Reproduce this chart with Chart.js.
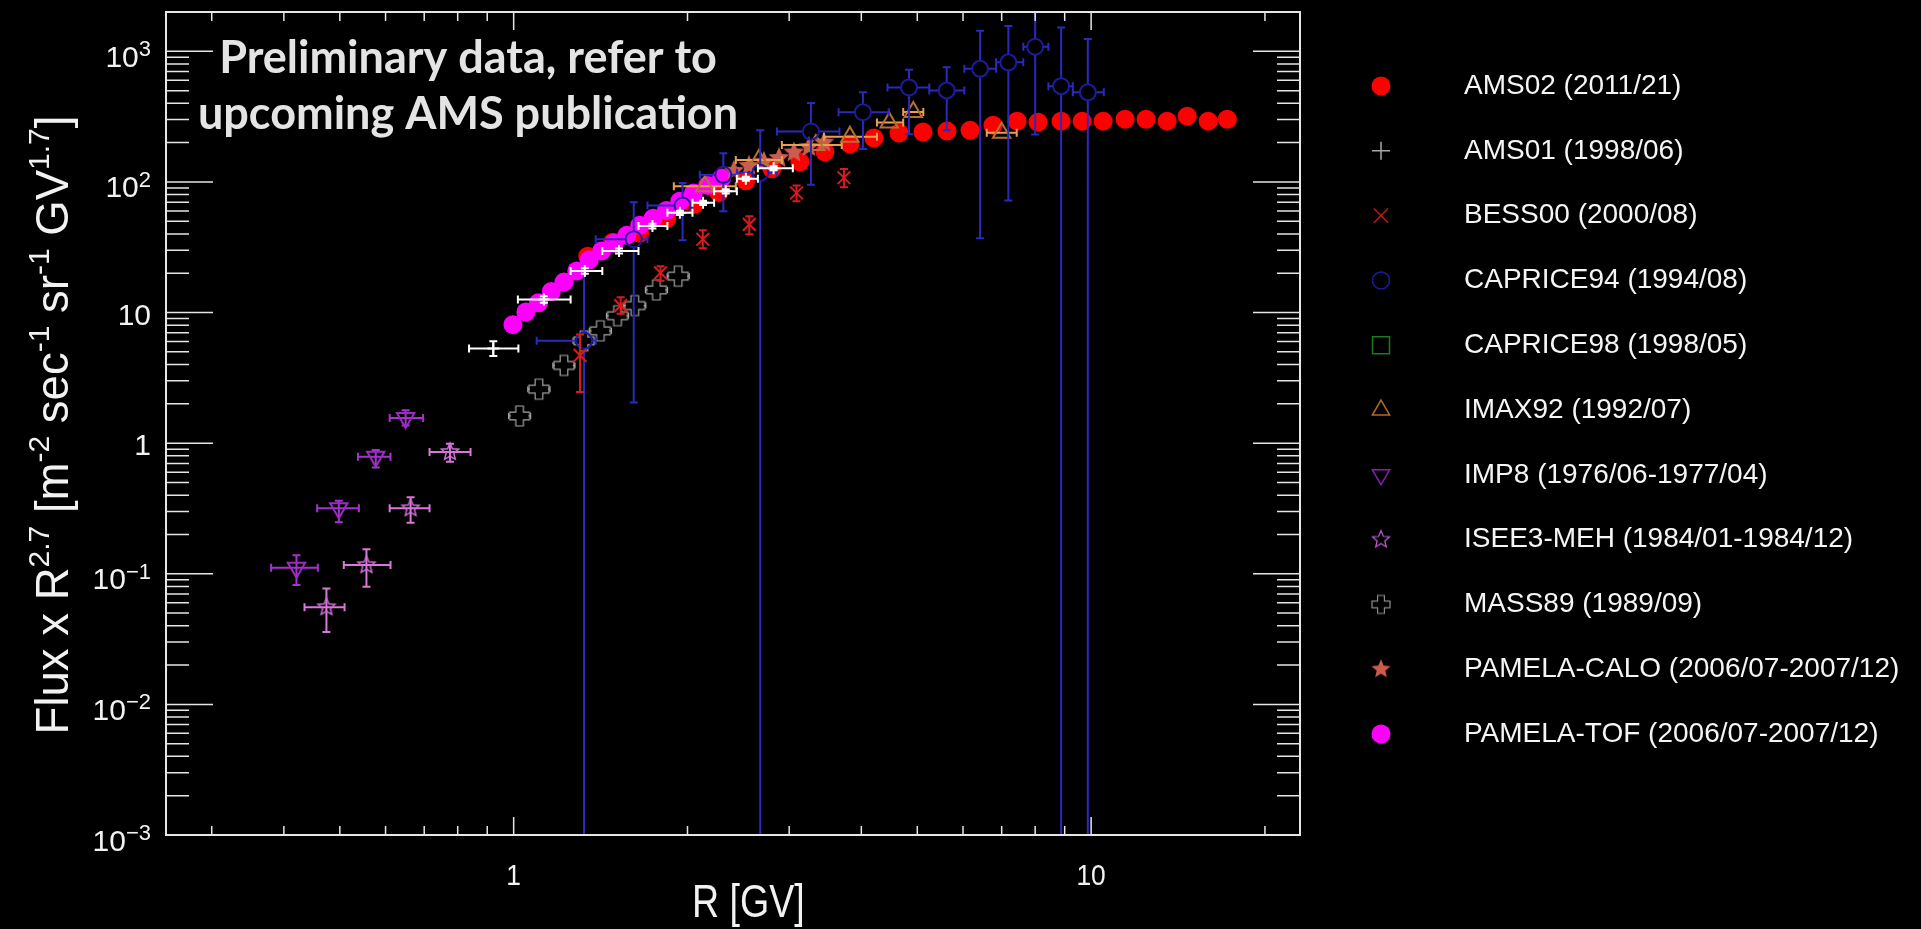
<!DOCTYPE html>
<html>
<head>
<meta charset="utf-8">
<title>Flux x R^2.7 vs rigidity</title>
<script src="https://cdn.jsdelivr.net/npm/chart.js@4.4.1/dist/chart.umd.min.js"></script>
<style>
  html, body { margin: 0; padding: 0; background: #000; overflow: hidden; }
  canvas { display: block; background: #000; }
</style>
</head>
<body>
<canvas id="fluxChart" width="1921" height="929"></canvas>
<script>
// values: R [GV] and Flux x R^2.7
const ams02R = [1.344, 1.484, 1.653, 1.842, 2.051, 2.266, 2.524, 2.80, 3.131, 3.459, 3.822, 4.206, 4.648, 5.115,
  5.628, 6.171, 6.764, 7.443, 8.093, 8.872, 9.65, 10.49, 11.45, 12.45, 13.54, 14.67, 15.95, 17.21];
const ams02V = [27.0, 34.5, 40.4, 52.5, 67.1, 82.8, 102, 126, 142.5, 170, 195, 217, 237, 241,
  245, 249, 272, 292, 287, 292, 292, 292, 302, 302, 292, 319, 292, 302];

const pamTofR = [0.997, 1.050, 1.104, 1.162, 1.222, 1.286, 1.351, 1.420, 1.492, 1.570, 1.653, 1.744, 1.839, 1.940, 2.048, 2.167, 2.291];
const pamTofV = [8.08, 10.1, 11.9, 14.5, 17.1, 20.8, 25.2, 29.6, 33.9, 39.0, 46.5, 52.8, 60.4, 71.1, 82.3, 94.1, 107];

const pamCaloR = [2.406, 2.555, 2.713, 2.880, 3.057, 3.245, 3.446];
const pamCaloV = [121.7, 132.8, 142.5, 152.8, 168.2, 185.1, 200.4];

const ams01R = [0.922, 1.128, 1.328, 1.522, 1.739, 1.940, 2.128, 2.330, 2.524, 2.819];
const ams01V = [5.31, 12.6, 20.8, 29.6, 45.9, 58.0, 69.2, 84.7, 105.8, 127.5];
const ams01RLo = [0.837, 1.017, 1.255, 1.424, 1.645, 1.846, 2.040, 2.224, 2.435, 2.648];
const ams01RHi = [1.019, 1.255, 1.424, 1.645, 1.846, 2.040, 2.224, 2.435, 2.648, 3.044];
const ams01VLo = [4.64, 11.9, 19.8, 28.3, 44.0, 55.8, 66.6, 81.6, 102, 123];
const ams01VHi = [6.03, 13.3, 21.8, 30.9, 47.8, 60.2, 71.8, 87.8, 109.6, 132];

const bessR = [1.303, 1.532, 1.796, 2.126, 2.559, 3.089, 3.732];
const bessV = [4.70, 11.3, 20.1, 36.4, 47.3, 82.3, 107.6];
const bessVLo = [2.46, 9.8, 17.5, 31.1, 39.7, 71.1, 90.9];
const bessVHi = [6.78, 13.1, 22.6, 42.6, 54.7, 94.1, 125.4];

const capr94R = [1.324, 1.614, 1.961, 2.307, 2.673, 3.272, 4.026, 4.837, 5.622, 6.423, 7.189, 8.0, 8.872, 9.87];
const capr94V = [6.07, 36.4, 65.9, 113.4, 117.5, 243, 342, 529, 502, 734, 823, 1084, 541, 485];
const capr94RLo = [1.096, 1.387, 1.705, 2.101, 2.435, 2.857, 3.653, 4.44, 5.245, 6.032, 6.845, 7.63, 8.433, 9.296];
const capr94RHi = [1.387, 1.705, 2.035, 2.435, 2.857, 3.666, 4.461, 5.245, 6.032, 6.845, 7.63, 8.433, 9.296, 10.52];
const capr94VLo = [1e-4, 2.05, 35.8, 59.7, 1e-4, 95.2, 179, 232, 249, 37.0, 72, 231, 1e-4, 1e-4];
const capr94VHi = [20.9, 69.9, 98.1, 165.9, 249, 402, 487, 721, 755, 1434, 1565, 5000, 1519, 1240];

const imaxR = [2.143, 2.658, 3.337, 3.822, 4.471, 4.921, 7.0];
const imaxV = [92.5, 147.5, 191.8, 221.7, 285.3, 343.4, 237.8];
const imaxRLo = [1.894, 2.425, 2.914, 3.446, 4.257, 4.727, 6.596];
const imaxRHi = [2.425, 2.914, 3.70, 4.257, 4.727, 5.122, 7.433];

const imp8R = [0.4206, 0.498, 0.577, 0.650];
const imp8V = [0.1111, 0.3175, 0.788, 1.56];
const imp8RLo = [0.3802, 0.4568, 0.5375, 0.610];
const imp8RHi = [0.458, 0.5395, 0.612, 0.697];
const imp8VLo = [0.0821, 0.2484, 0.650, 1.363];
const imp8VHi = [0.1388, 0.363, 0.886, 1.785];

const iseeR = [0.474, 0.556, 0.663, 0.7756];
const iseeV = [0.0555, 0.1165, 0.3175, 0.856];
const iseeRLo = [0.4343, 0.508, 0.61, 0.715];
const iseeRHi = [0.5095, 0.612, 0.715, 0.842];
const iseeVLo = [0.0358, 0.0797, 0.2454, 0.722];
const iseeVHi = [0.0773, 0.1541, 0.3847, 0.99];

const mass89R = [1.024, 1.106, 1.222, 1.324, 1.413, 1.513, 1.621, 1.767, 1.927];
const mass89V = [1.615, 2.59, 3.94, 6.07, 7.24, 9.46, 11.3, 14.9, 19.0];
const mass89RLo = [0.98, 1.058, 1.169, 1.267, 1.352, 1.448, 1.551, 1.691, 1.844];
const mass89RHi = [1.07, 1.156, 1.277, 1.384, 1.477, 1.581, 1.694, 1.847, 2.014];

const legendLabels = [
  'AMS02 (2011/21)', 'AMS01 (1998/06)', 'BESS00 (2000/08)', 'CAPRICE94 (1994/08)', 'CAPRICE98 (1998/05)',
  'IMAX92 (1992/07)', 'IMP8 (1976/06-1977/04)', 'ISEE3-MEH (1984/01-1984/12)', 'MASS89 (1989/09)',
  'PAMELA-CALO (2006/07-2007/12)', 'PAMELA-TOF (2006/07-2007/12)'
];

const xTickVals = [1, 10];
const xTickLabels = ['1', '10'];
const yTickVals = [1e-3, 1e-2, 1e-1, 1, 10, 100, 1000];
const yTickBase = ['10', '10', '10', '1', '10', '10', '10'];
const yTickExp = ['\u22123', '\u22122', '\u22121', '', '', '2', '3'];

const note = ['Preliminary data, refer to', 'upcoming AMS publication'];
const xTitle = 'R [GV]';
const yTitle = [['Flux x R', 0], ['2.7', 1], [' [m', 0], ['-2', 1], [' sec', 0], ['-1', 1],
  [' sr', 0], ['-1', 1], [' GV', 0], ['1.7', 1], [']', 0]];

const FONT = "'Liberation Sans', Arial, Helvetica, sans-serif";

// marker shapes chart.js does not have
function starMarker(r, fill, stroke, lw) {
  const s = Math.ceil(2 * r + lw + 4);
  const c = document.createElement('canvas');
  c.width = c.height = s;
  const g = c.getContext('2d');
  g.translate(s / 2, s / 2);
  g.beginPath();
  for (let k = 0; k < 10; k++) {
    const rr = k % 2 ? r * 0.45 : r;
    const a = -Math.PI / 2 + k * Math.PI / 5;
    g.lineTo(rr * Math.cos(a), rr * Math.sin(a));
  }
  g.closePath();
  if (fill) { g.fillStyle = fill; g.fill(); }
  if (stroke) { g.strokeStyle = stroke; g.lineWidth = lw; g.stroke(); }
  return c;
}

function plusMarker(r, stroke, lw) {
  const s = Math.ceil(2 * r + lw + 4);
  const c = document.createElement('canvas');
  c.width = c.height = s;
  const g = c.getContext('2d');
  g.translate(s / 2, s / 2);
  const a = r * 0.38;
  const pts = [[-a, -r], [a, -r], [a, -a], [r, -a], [r, a], [a, a], [a, r], [-a, r], [-a, a], [-r, a], [-r, -a], [-a, -a]];
  g.beginPath();
  pts.forEach(p => g.lineTo(p[0], p[1]));
  g.closePath();
  g.strokeStyle = stroke;
  g.lineWidth = lw;
  g.stroke();
  return c;
}

const isseStar = starMarker(9, null, '#d070d8', 1.5);
const caloStar = starMarker(11, '#cd5c50', null, 0);
const massPlus = plusMarker(10, '#a4a4a4', 1.2);

function series(label, R, V, style) {
  return Object.assign({ label, data: R.map((r, i) => ({ x: r, y: V[i] })), showLine: false, pointHoverRadius: 0 }, style);
}

// first dataset is drawn on top
const datasets = [
  series('AMS01', ams01R, ams01V, {
    pointStyle: 'cross', pointRadius: 6, borderColor: '#ffffff', backgroundColor: 'transparent', borderWidth: 2,
    errors: { rLo: ams01RLo, rHi: ams01RHi, vLo: ams01VLo, vHi: ams01VHi, color: '#ffffff', width: 2, cap: 4 }
  }),
  series('BESS00', bessR, bessV, {
    pointStyle: 'crossRot', pointRadius: 9, borderColor: '#d81c1c', backgroundColor: 'transparent', borderWidth: 2,
    errors: { vLo: bessVLo, vHi: bessVHi, color: '#d81c1c', width: 2, cap: 4 }
  }),
  series('CAPRICE94', capr94R, capr94V, {
    pointStyle: 'circle', pointRadius: 8, borderColor: '#1c1c9c', backgroundColor: 'transparent', borderWidth: 2,
    errors: { rLo: capr94RLo, rHi: capr94RHi, vLo: capr94VLo, vHi: capr94VHi, color: '#2a2abc', width: 2, cap: 4, gap: 8 }
  }),
  series('IMAX92', imaxR, imaxV, {
    pointStyle: 'triangle', pointRadius: 10, borderColor: '#b87030', backgroundColor: 'transparent', borderWidth: 2,
    errors: { rLo: imaxRLo, rHi: imaxRHi, color: '#e8a050', width: 2, cap: 4 }
  }),
  series('IMP8', imp8R, imp8V, {
    pointStyle: 'triangle', rotation: 180, pointRadius: 10, borderColor: '#9a2cc4', backgroundColor: 'transparent', borderWidth: 2,
    errors: { rLo: imp8RLo, rHi: imp8RHi, vLo: imp8VLo, vHi: imp8VHi, color: '#a434cc', width: 2, cap: 4 }
  }),
  series('ISEE3-MEH', iseeR, iseeV, {
    pointStyle: isseStar,
    errors: { rLo: iseeRLo, rHi: iseeRHi, vLo: iseeVLo, vHi: iseeVHi, color: '#d878d8', width: 2, cap: 4 }
  }),
  series('MASS89', mass89R, mass89V, {
    pointStyle: massPlus,
    errors: { rLo: mass89RLo, rHi: mass89RHi, color: '#a4a4a4', width: 1.2, cap: 3, gap: 9 }
  }),
  series('PAMELA-CALO', pamCaloR, pamCaloV, { pointStyle: caloStar }),
  series('PAMELA-TOF', pamTofR, pamTofV, {
    pointStyle: 'circle', pointRadius: 9.5, backgroundColor: '#ff00ff', borderWidth: 0
  }),
  series('AMS02', ams02R, ams02V, {
    pointStyle: 'circle', pointRadius: 9.5, backgroundColor: '#ff0000', borderWidth: 0
  })
];

// legend markers, same order as legendLabels
const legendMarks = [
  { pointStyle: 'circle', radius: 9.5, fill: '#ff0000' },
  { pointStyle: 'cross', radius: 9, stroke: '#a8a8a8', lw: 1.5 },
  { pointStyle: 'crossRot', radius: 10, stroke: '#c01818', lw: 1.5 },
  { pointStyle: 'circle', radius: 8.5, stroke: '#1c1c9c', lw: 1.5 },
  { pointStyle: 'rect', radius: 12, stroke: '#1e7a1e', lw: 1.5 },
  { pointStyle: 'triangle', radius: 10, stroke: '#b06a2a', lw: 1.5 },
  { pointStyle: 'triangle', radius: 10, rotation: 180, stroke: '#8a1fb4', lw: 1.5 },
  { pointStyle: starMarker(9, null, '#c462d4', 1.2) },
  { pointStyle: plusMarker(9, '#8c8c8c', 1.2) },
  { pointStyle: starMarker(10, '#cd5a4c', null, 0) },
  { pointStyle: 'circle', radius: 9.5, fill: '#ff00ff' }
];

const errorBarPlugin = {
  id: 'errorBars',
  beforeDatasetDraw(chart, args) {
    const ds = chart.data.datasets[args.index];
    const e = ds.errors;
    if (!e) return;
    const { ctx, chartArea: a } = chart;
    const xs = chart.scales.x, ys = chart.scales.y;
    const g = e.gap || 0, c = e.cap;
    ctx.save();
    ctx.beginPath();
    ctx.rect(a.left, a.top, a.right - a.left, a.bottom - a.top);
    ctx.clip();
    ctx.strokeStyle = e.color;
    ctx.lineWidth = e.width;
    ctx.beginPath();
    ds.data.forEach((p, i) => {
      const px = xs.getPixelForValue(p.x), py = ys.getPixelForValue(p.y);
      if (e.rLo) {
        const l = xs.getPixelForValue(e.rLo[i]), r = xs.getPixelForValue(e.rHi[i]);
        if (px - g > l) { ctx.moveTo(l, py); ctx.lineTo(px - g, py); ctx.moveTo(l, py - c); ctx.lineTo(l, py + c); }
        if (r > px + g) { ctx.moveTo(px + g, py); ctx.lineTo(r, py); ctx.moveTo(r, py - c); ctx.lineTo(r, py + c); }
      }
      if (e.vLo) {
        const b = ys.getPixelForValue(e.vLo[i]), t = ys.getPixelForValue(e.vHi[i]);
        if (b > py + g) { ctx.moveTo(px, py + g); ctx.lineTo(px, b); ctx.moveTo(px - c, b); ctx.lineTo(px + c, b); }
        if (t < py - g) { ctx.moveTo(px, py - g); ctx.lineTo(px, t); ctx.moveTo(px - c, t); ctx.lineTo(px + c, t); }
      }
    });
    ctx.stroke();
    ctx.restore();
  }
};

// ROOT style frame: inward ticks on all four sides, labels with exponents
const framePlugin = {
  id: 'rootFrame',
  afterDraw(chart) {
    const { ctx, chartArea: a } = chart;
    const xs = chart.scales.x, ys = chart.scales.y;
    ctx.save();
    ctx.strokeStyle = '#e6e6e6';
    ctx.lineWidth = 2;
    ctx.strokeRect(a.left, a.top, a.right - a.left, a.bottom - a.top);

    ctx.lineWidth = 1.5;
    ctx.beginPath();
    for (let d = -1; d <= 1; d++) {
      for (let k = 1; k <= 9; k++) {
        const v = k * Math.pow(10, d);
        if (v <= xs.min || v >= xs.max) continue;
        const px = xs.getPixelForValue(v);
        const len = k === 1 ? 18 : 9;
        ctx.moveTo(px, a.bottom); ctx.lineTo(px, a.bottom - len);
        ctx.moveTo(px, a.top); ctx.lineTo(px, a.top + len);
      }
    }
    for (let d = -3; d <= 3; d++) {
      for (let k = 1; k <= 9; k++) {
        const v = k * Math.pow(10, d);
        if (v < ys.min || v >= ys.max) continue;
        const py = ys.getPixelForValue(v);
        const len = k === 1 ? 47 : 23;
        ctx.moveTo(a.left, py); ctx.lineTo(a.left + len, py);
        ctx.moveTo(a.right, py); ctx.lineTo(a.right - len, py);
      }
    }
    ctx.stroke();

    ctx.fillStyle = '#f2f2f2';
    ctx.textBaseline = 'alphabetic';
    ctx.textAlign = 'center';
    xTickVals.forEach((v, i) => {
      ctx.save();
      ctx.translate(xs.getPixelForValue(v), 885);
      ctx.scale(0.88, 1);
      ctx.font = '30px ' + FONT;
      ctx.fillText(xTickLabels[i], 0, 0);
      ctx.restore();
    });

    ctx.textAlign = 'right';
    yTickVals.forEach((v, i) => {
      const py = ys.getPixelForValue(v);
      const right = a.left - 15;
      if (yTickExp[i]) {
        ctx.font = '22px ' + FONT;
        const ew = ctx.measureText(yTickExp[i]).width;
        ctx.fillText(yTickExp[i], right, py + 5);
        ctx.font = '30px ' + FONT;
        ctx.fillText(yTickBase[i], right - ew, py + 15.5);
      } else {
        ctx.font = '30px ' + FONT;
        ctx.fillText(yTickBase[i], right, py + 12);
      }
    });
    ctx.restore();
  }
};

function richWidth(ctx, parts, size) {
  let w = 0;
  parts.forEach(([t, sup]) => {
    ctx.font = (sup ? size * 0.66 : size) + 'px ' + FONT;
    w += ctx.measureText(t).width;
  });
  return w;
}

const textPlugin = {
  id: 'texts',
  afterDraw(chart) {
    const { ctx } = chart;
    ctx.save();

    // axis titles
    ctx.fillStyle = '#f2f2f2';
    ctx.textAlign = 'left';
    ctx.textBaseline = 'alphabetic';
    ctx.save();
    ctx.translate(692, 917);
    ctx.scale(0.8, 1);
    ctx.font = '47px ' + FONT;
    ctx.fillText(xTitle, 0, 0);
    ctx.restore();

    let size = 48;
    size = size * 619 / richWidth(ctx, yTitle, size);
    const total = richWidth(ctx, yTitle, size);
    ctx.save();
    ctx.translate(68, 425);
    ctx.rotate(-Math.PI / 2);
    let x = -total / 2;
    yTitle.forEach(([t, sup]) => {
      ctx.font = (sup ? size * 0.66 : size) + 'px ' + FONT;
      ctx.fillText(t, x, sup ? -size * 0.42 : 0);
      x += ctx.measureText(t).width;
    });
    ctx.restore();

    // legend
    const h = Chart.helpers;
    legendLabels.forEach((lab, i) => {
      const y = 86 + i * 64.8;
      const m = legendMarks[i];
      ctx.fillStyle = m.fill || 'rgba(0,0,0,0)';
      ctx.strokeStyle = m.stroke || 'rgba(0,0,0,0)';
      ctx.lineWidth = m.lw || 0;
      h.drawPoint(ctx, { pointStyle: m.pointStyle, radius: m.radius || 10, rotation: m.rotation || 0, borderWidth: m.lw || 0 }, 1381, y);
      ctx.fillStyle = '#f5f5f5';
      ctx.font = '28px ' + FONT;
      ctx.textBaseline = 'middle';
      ctx.textAlign = 'left';
      ctx.fillText(lab, 1464, y);
    });

    // preliminary note
    ctx.fillStyle = '#e4e4e4';
    ctx.textAlign = 'center';
    ctx.textBaseline = 'alphabetic';
    ctx.font = 'bold 40px Lato, "Open Sans", sans-serif';
    const ns = 40 * 498 / ctx.measureText(note[0]).width;
    ctx.font = 'bold ' + ns.toFixed(1) + 'px Lato, "Open Sans", sans-serif';
    ctx.fillText(note[0], 468, 73);
    ctx.fillText(note[1], 468, 129);
    ctx.restore();
  }
};

new Chart(document.getElementById('fluxChart'), {
  type: 'scatter',
  data: { datasets },
  options: {
    responsive: false,
    animation: false,
    devicePixelRatio: 1,
    layout: { padding: { left: 166, right: 621, top: 6, bottom: 94 } },
    plugins: { legend: { display: false }, tooltip: { enabled: false } },
    scales: {
      x: { type: 'logarithmic', min: 0.25, max: 23, display: false },
      y: { type: 'logarithmic', min: 1e-3, max: 2000, display: false }
    }
  },
  plugins: [errorBarPlugin, framePlugin, textPlugin]
});
</script>
</body>
</html>
